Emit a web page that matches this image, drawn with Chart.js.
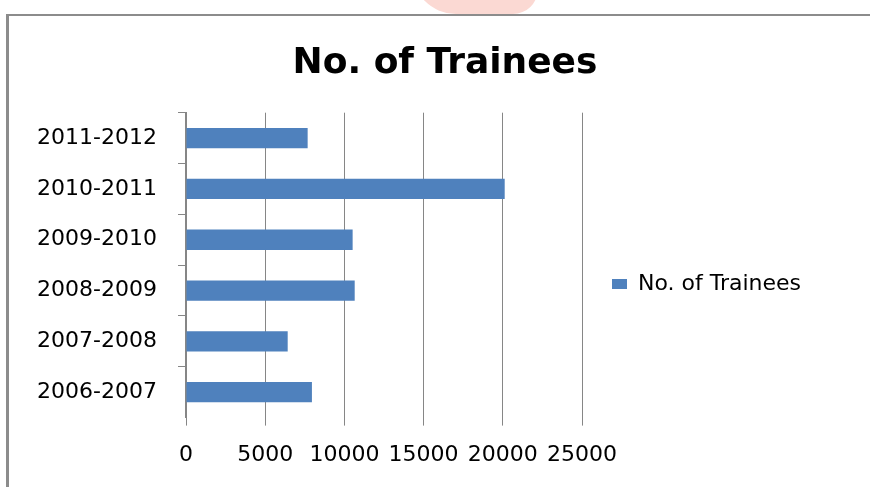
<!DOCTYPE html>
<html>
<head>
<meta charset="utf-8">
<script src="https://cdn.jsdelivr.net/npm/chart.js@4"></script>
<style>
  html, body { margin: 0; padding: 0; background: #fff; overflow: hidden; }
  body { width: 870px; height: 487px; position: relative; }
  .mancha {
    position: absolute; left: 412px; top: -30px; width: 126px; height: 44px;
    background: #fbd9d3; border-radius: 0 0 40px 70px;
  }
  .moldura {
    position: absolute; left: 6px; top: 14px; width: 900px; height: 500px;
    border-top: 2px solid #8c8c8c; border-left: 3px solid #8c8c8c;
  }
  .area { position: absolute; left: 9px; top: 0; width: 874px; height: 487px; }
</style>
</head>
<body>
<div class="mancha"></div>
<div class="moldura"></div>
<div class="area"><canvas id="graficoTrainees"></canvas></div>
<script>
const anos = ['2006-2007', '2007-2008', '2008-2009', '2009-2010', '2010-2011', '2011-2012'];
const trainees = [7950, 6420, 10650, 10520, 20120, 7680];
const ticksX = [0, 5000, 10000, 15000, 20000, 25000];

const cinza = '#868686';
const fonte = 'DejaVu Sans';

// largura fixa da legenda (o layout do Chart.js limita a metade do espaço)
const larguraLegenda = {
  id: 'larguraLegenda',
  beforeLayout(chart) {
    const lg = chart.legend;
    if (lg && !lg._fixo) {
      const fitOriginal = lg.fit.bind(lg);
      lg.fit = function () { fitOriginal(); this.width = 278; };
      lg._fixo = true;
    }
  }
};

const ctx = document.getElementById('graficoTrainees').getContext('2d');

new Chart(ctx, {
  type: 'bar',
  data: {
    labels: anos,
    datasets: [{
      label: 'No. of Trainees',
      data: trainees,
      backgroundColor: '#4f81bd',
      borderWidth: 0,
      barPercentage: 0.4,
      categoryPercentage: 1
    }]
  },
  plugins: [larguraLegenda],
  options: {
    indexAxis: 'y',
    responsive: true,
    maintainAspectRatio: false,
    animation: false,
    layout: { padding: { left: 21, right: 23, bottom: 3, top: 0 } },
    plugins: {
      title: {
        display: true,
        text: 'No. of Trainees',
        color: '#000',
        font: { family: fonte, size: 36, weight: 'bold' },
        padding: { top: 42.5, bottom: 27 }
      },
      legend: {
        position: 'right',
        title: { display: true, text: ' ', font: { family: fonte, size: 22 }, padding: { top: 0, bottom: 57.6 } },
        labels: {
          color: '#000',
          font: { family: fonte, size: 22 },
          boxWidth: 15,
          boxHeight: 10,
          padding: 30
        }
      },
      tooltip: { enabled: false }
    },
    scales: {
      x: {
        min: 0,
        max: 25000,
        afterBuildTicks: s => { s.ticks = ticksX.map(v => ({ value: v })); },
        grid: { color: cinza, lineWidth: 1, tickLength: 8, drawTicks: true },
        border: { display: false },
        ticks: { color: '#000', font: { family: fonte, size: 22 }, padding: 16, maxRotation: 0, callback: v => String(v) }
      },
      y: {
        reverse: true,
        afterFit: s => { s.width = 156; },
        grid: {
          drawOnChartArea: false,
          color: c => c.index === 0 ? 'rgba(0,0,0,0)' : cinza, // sem marca no fundo
          tickLength: 8,
          offset: true
        },
        border: { color: cinza, width: 2 },
        ticks: { color: '#000', font: { family: fonte, size: 22 }, padding: 21 }
      }
    }
  }
});
</script>
</body>
</html>
